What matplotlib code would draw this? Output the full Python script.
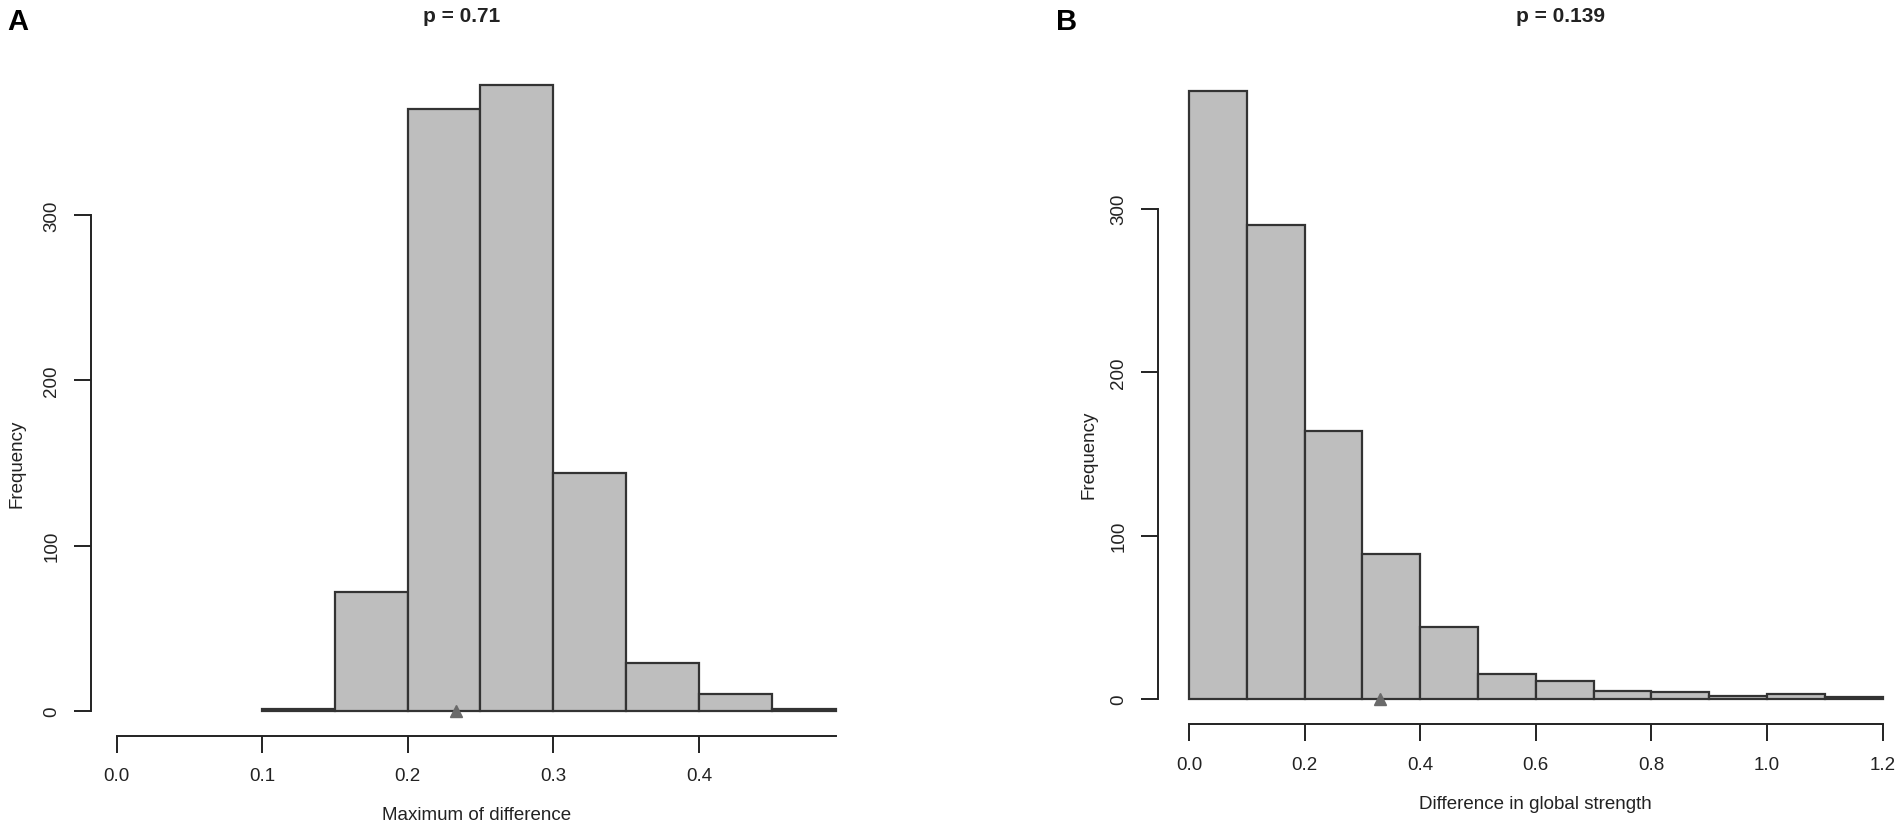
import matplotlib
matplotlib.use("Agg")
import matplotlib.pyplot as plt
import numpy as np

plt.rcParams['font.family'] = ['Liberation Sans Narrow', 'Liberation Sans', 'DejaVu Sans']

# Panel A data
a_edges = [0.10, 0.15, 0.20, 0.25, 0.30, 0.35, 0.40, 0.45, 0.494]
a_counts = [1, 72, 364, 379, 144, 29, 10, 1]
a_observed = 0.233
a_title = "p = 0.71"
a_xlabel = "Maximum of difference"
a_xticks = [0.0, 0.1, 0.2, 0.3, 0.4]
a_yticks = [0, 100, 200, 300]

# Panel B data
b_edges = [0.0, 0.1, 0.2, 0.3, 0.4, 0.5, 0.6, 0.7, 0.8, 0.9, 1.0, 1.1, 1.2]
b_counts = [372, 290, 164, 89, 44, 15, 11, 5, 4, 2, 3, 1]
b_observed = 0.33
b_title = "p = 0.139"
b_xlabel = "Difference in global strength"
b_xticks = [0.0, 0.2, 0.4, 0.6, 0.8, 1.0, 1.2]
b_yticks = [0, 100, 200, 300]

W, H = 1902, 829
fig = plt.figure(figsize=(W / 100, H / 100), dpi=100)
TXT = '#222222'


def panel(edges, counts, obs, title, xlabel, xticks, yticks, xtick_fmt,
          x0px, xscale, y0px, yscale, yaxis_px, xaxis_px, right_px, top_px,
          xaxis_end, title_x, ylabel_x, xlabel_y):
    left_px = yaxis_px
    ax = fig.add_axes([left_px / W, 1 - xaxis_px / H,
                       (right_px - left_px) / W, (xaxis_px - top_px) / H])
    xmin = (left_px - x0px) / xscale
    xmax = (right_px - x0px) / xscale
    ymin = -(xaxis_px - y0px) / yscale
    ymax = (y0px - top_px) / yscale
    ax.set_xlim(xmin, xmax)
    ax.set_ylim(ymin, ymax)
    e = np.array(edges)
    ax.bar(e[:-1], counts, width=np.diff(e), align='edge',
           color='#bebebe', edgecolor='#333333', linewidth=1.6, zorder=2)
    ax.plot([obs], [0], marker='^', color='#6a6a6a', markersize=9, zorder=3,
            clip_on=False, linestyle='none')
    for s in ['top', 'right']:
        ax.spines[s].set_visible(False)
    ax.spines['left'].set_bounds(yticks[0], yticks[-1])
    ax.spines['bottom'].set_bounds(xticks[0], xaxis_end)
    for s in ['left', 'bottom']:
        ax.spines[s].set_linewidth(1.4)
        ax.spines[s].set_color('#222222')
    ax.set_xticks(xticks)
    ax.set_xticklabels([xtick_fmt.format(v) for v in xticks])
    ax.set_yticks(yticks)
    ax.set_yticklabels([str(v) for v in yticks], rotation=90, va='center')
    ax.tick_params(axis='both', length=12, width=1.4, color='#222222',
                   labelsize=13.5, labelcolor=TXT)
    ax.tick_params(axis='x', pad=11)
    ax.tick_params(axis='y', pad=10)
    # titles and axis labels
    fig.text(title_x / W, 1 - 16 / H, title, ha='center', va='center',
             fontsize=15, fontweight='bold', color=TXT)
    xmid_px = x0px + (xticks[0] + xaxis_end) / 2 * xscale
    fig.text(xmid_px / W, 1 - xlabel_y / H, xlabel, ha='center', va='center',
             fontsize=13.5, color=TXT)
    ymid_px = y0px - (yticks[0] + yticks[-1]) / 2 * yscale
    fig.text(ylabel_x / W, 1 - ymid_px / H, "Frequency", ha='center', va='center',
             rotation=90, fontsize=13.5, color=TXT)
    return ax


axA = panel(a_edges, a_counts, a_observed, a_title, a_xlabel, a_xticks, a_yticks,
            "{:.1f}", x0px=116.5, xscale=1456, y0px=712, yscale=1.653,
            yaxis_px=91, xaxis_px=736.5, right_px=838, top_px=60,
            xaxis_end=0.494, title_x=462, ylabel_x=17, xlabel_y=816)

axB = panel(b_edges, b_counts, b_observed, b_title, b_xlabel, b_xticks, b_yticks,
            "{:.1f}", x0px=1189, xscale=578, y0px=700, yscale=1.634,
            yaxis_px=1158, xaxis_px=725, right_px=1890, top_px=60,
            xaxis_end=1.2, title_x=1560, ylabel_x=1089, xlabel_y=805)

fig.text(18 / W, 1 - 22 / H, "A", ha='center', va='center', fontsize=21,
         fontweight='bold', color='black', family=['Liberation Sans', 'DejaVu Sans'])
fig.text(1067 / W, 1 - 22 / H, "B", ha='center', va='center', fontsize=21,
         fontweight='bold', color='black', family=['Liberation Sans', 'DejaVu Sans'])

fig.savefig("out.png", dpi=100, facecolor='white')
